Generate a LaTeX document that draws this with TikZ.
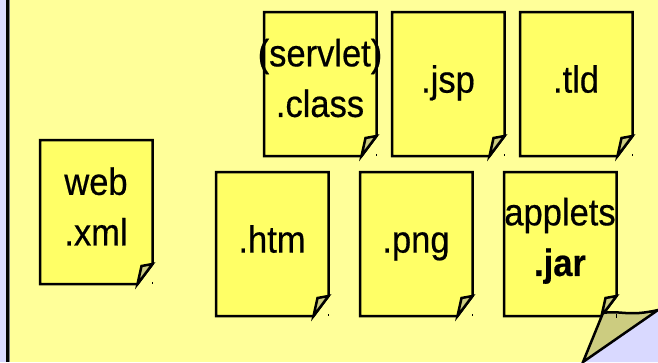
\documentclass[tikz,border=0pt]{standalone}
\usepackage{fontspec}
\setmainfont[RawFeature={embolden=0.5}]{Liberation Sans}
\usetikzlibrary{calc}
\definecolor{lav}{HTML}{D9D9FF}
\definecolor{bgy}{HTML}{FFFF99}
\definecolor{pagey}{HTML}{FFFF66}
\definecolor{foldc}{HTML}{CCCC80}
\tikzset{
  pagebox/.style={draw=black,line width=2.5pt,fill=pagey,line join=miter},
  foldbox/.style={draw=black,line width=2.5pt,fill=foldc,line join=miter},
  pagelabel/.style={inner sep=0pt,font=\fontsize{34.5}{46}\selectfont,text=black},
}
% #1 name, #2 left, #3 top, #4 text, #5 label centre below top
\newcommand{\docpage}[5]{
  \path (#2,#3) coordinate (#1tl) ++(112.5,0) coordinate (#1tr) ++(0,124) coordinate (#1fr)
        ++(-11,2) coordinate (#1fi) ++(-4,18) coordinate (#1bf) ++(-97.5,0) coordinate (#1bl);
  \draw[pagebox] (#1tl) -- (#1tr) -- (#1fr) -- (#1bf) -- (#1bl) -- cycle;
  \draw[foldbox] (#1fr) -- (#1fi) -- (#1bf) -- cycle;
  \draw[black,line width=0.7pt] ($(#1fr)+(0,18)$) -- ++(0,2);
  \node[pagelabel] (#1) at ($(#1tl)+(56,#5)$) {\scalebox{1}[1.1]{\begin{tabular}{@{}c@{}}#4\end{tabular}}};
}
\begin{document}
\begin{tikzpicture}[x=1pt,y=-1pt]
\useasboundingbox (0,0) rectangle (658,362);
\fill[lav] (0,0) rectangle (658,362);
\fill[bgy] (10,0) rectangle (658,362);
\fill[black] (6,0) rectangle (9,362);
\fill[gray] (9,0) rectangle (10,362);
\docpage{servlet}{264}{12}{(servlet)\\.class}{69.5}
\docpage{jsp}{392}{12}{.jsp}{70.5}
\docpage{tld}{520}{12}{.tld}{70.5}
\docpage{web}{40}{140}{web\\.xml}{70}
\docpage{htm}{216}{172}{.htm}{70.5}
\docpage{png}{360}{172}{.png}{70.5}
\docpage{jar}{504}{172}{applets\\\textbf{.jar}}{68.5}
\coordinate (cornerA) at (583,362);
\coordinate (cornerB) at (603,313);
\coordinate (cornerC) at (658,310);
\fill[lav] (cornerC) -- (cornerA) -- (658,362) -- cycle;
\draw[foldbox] (cornerA) -- (cornerB)
  .. controls (620,310) and (628,317) .. (cornerC) -- cycle;
\draw[black,line width=0.7pt] (616.5,314) -- (616.5,318);
\end{tikzpicture}
\end{document}
